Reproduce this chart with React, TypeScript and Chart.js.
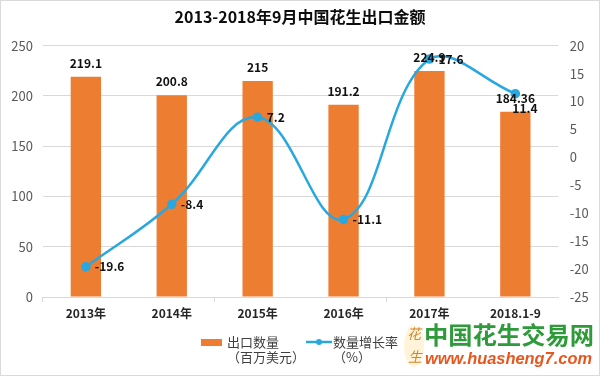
import React, { useEffect, useRef } from "react";
import { Chart, registerables } from "chart.js";

Chart.register(...registerables);

const categories = ["2013年", "2014年", "2015年", "2016年", "2017年", "2018.1-9"];
const exportValues = [219.1, 200.8, 215, 191.2, 224.9, 184.36];
const growthRates = [-19.6, -8.4, 7.2, -11.1, 17.6, 11.4];
const titleText = "2013-2018年9月中国花生出口金额";
const barLegend = ["出口数量", "（百万美元）"];
const lineLegend = ["数量增长率", "（%）"];

const FONT = '"Noto Sans CJK SC", "Noto Sans", sans-serif';
const BAR_COLOR = "#ED7D31";
const LINE_COLOR = "#29A8E0";

const decorPlugin = {
  id: "decor",
  afterDatasetsDraw(chart: any) {
    const ctx = chart.ctx;
    ctx.save();
    ctx.fillStyle = "#111";
    ctx.font = `bold 12px ${FONT}`;
    ctx.textBaseline = "middle";
    // bar labels
    const barMeta = chart.getDatasetMeta(1);
    ctx.textAlign = "center";
    barMeta.data.forEach((el: any, i: number) => {
      ctx.fillText(String(exportValues[i]), el.x, el.y - 13.5);
    });
    // line labels
    const lineMeta = chart.getDatasetMeta(0);
    ctx.textAlign = "left";
    lineMeta.data.forEach((el: any, i: number) => {
      const last = i === lineMeta.data.length - 1;
      const dx = last ? -3 : 9;
      const dy = last ? 15 : 0;
      ctx.fillText(String(growthRates[i]), el.x + dx, el.y + dy);
    });
    ctx.restore();
  },
  afterDraw(chart: any) {
    const ctx = chart.ctx;
    ctx.save();
    // border
    ctx.strokeStyle = "#d9d9d9";
    ctx.lineWidth = 1;
    ctx.strokeRect(0.5, 0.5, 599, 375);
    // title
    ctx.fillStyle = "#0d0d0d";
    ctx.font = `bold 16px ${FONT}`;
    ctx.textAlign = "center";
    ctx.textBaseline = "middle";
    ctx.fillText(titleText, 300, 17);

    // legend
    ctx.fillStyle = BAR_COLOR;
    ctx.fillRect(201, 339, 21, 7);
    ctx.fillStyle = "#404040";
    ctx.font = `13px ${FONT}`;
    ctx.textAlign = "left";
    ctx.fillText(barLegend[0], 227, 342);
    ctx.fillText(barLegend[1], 227, 357);

    ctx.strokeStyle = LINE_COLOR;
    ctx.lineWidth = 2.5;
    ctx.beginPath();
    ctx.moveTo(306, 342);
    ctx.lineTo(332, 342);
    ctx.stroke();
    ctx.fillStyle = LINE_COLOR;
    ctx.beginPath();
    ctx.arc(319, 342, 3, 0, Math.PI * 2);
    ctx.fill();
    ctx.fillStyle = "#404040";
    ctx.fillText(lineLegend[0], 333, 342);
    ctx.fillText(lineLegend[1], 333, 357);

    // watermark logo
    ctx.fillStyle = "#FFF4DA";
    ctx.beginPath();
    ctx.ellipse(414, 346, 10, 21, 0, 0, Math.PI * 2);
    ctx.fill();
    ctx.fillStyle = "#D0882C";
    ctx.font = `italic 14px ${FONT}`;
    ctx.textAlign = "center";
    ctx.fillText("花", 414, 334);
    ctx.fillText("生", 415, 357);

    ctx.fillStyle = "#2E9A3A";
    ctx.font = `bold 24px ${FONT}`;
    ctx.textAlign = "left";
    const t1 = "中国花生交易网";
    const w1 = ctx.measureText(t1).width;
    ctx.save();
    ctx.translate(424, 335);
    ctx.scale(170 / w1, 1);
    ctx.fillText(t1, 0, 0);
    ctx.restore();

    ctx.fillStyle = "#E8561E";
    ctx.font = `italic bold 17px "Liberation Sans", Arial, sans-serif`;
    const t2 = "www.huasheng7.com";
    const w2 = ctx.measureText(t2).width;
    ctx.save();
    ctx.translate(425, 359);
    ctx.scale(167 / w2, 1);
    ctx.fillText(t2, 0, 0);
    ctx.restore();

    ctx.restore();
  },
};

export default function App() {
  const ref = useRef<HTMLCanvasElement>(null);
  useEffect(() => {
    if (!ref.current) return;
    const chart = new Chart(ref.current, {
      type: "bar",
      data: {
        labels: categories,
        datasets: [
          {
            type: "line",
            label: "数量增长率（%）",
            data: growthRates,
            yAxisID: "y1",
            borderColor: LINE_COLOR,
            backgroundColor: LINE_COLOR,
            borderWidth: 2.5,
            pointRadius: 3.5,
            pointBackgroundColor: LINE_COLOR,
            pointBorderColor: LINE_COLOR,
            tension: 0.4,
            order: 0,
          } as any,
          {
            type: "bar",
            label: "出口数量（百万美元）",
            data: exportValues,
            yAxisID: "y",
            backgroundColor: BAR_COLOR,
            categoryPercentage: 1,
            barPercentage: 0.353,
            order: 1,
          },
        ],
      },
      options: {
        responsive: false,
        animation: false,
        layout: { padding: { top: 45.7, left: 0, right: 0, bottom: 0 } },
        plugins: {
          legend: { display: false },
          title: { display: false },
          tooltip: { enabled: false },
        },
        scales: {
          x: {
            offset: true,
            grid: {
              offset: true,
              drawOnChartArea: false,
              drawTicks: true,
              tickLength: 5,
              color: (c: any) => (c.index % 2 === 0 ? "#d9d9d9" : "rgba(0,0,0,0)"),
            },
            border: { display: true, color: "#d9d9d9" },
            ticks: {
              padding: 4,
              color: "#262626",
              font: { family: FONT, size: 12, weight: "bold" },
              maxRotation: 0,
              autoSkip: false,
            },
            afterFit: (s: any) => {
              s.height = 79;
            },
          },
          y: {
            position: "left",
            min: 0,
            max: 250,
            ticks: {
              stepSize: 50,
              padding: 10,
              color: "#595959",
              font: { family: FONT, size: 13 },
            },
            grid: { color: "#d9d9d9", drawTicks: false },
            border: { display: false },
            afterFit: (s: any) => {
              s.width = 42.9;
            },
          },
          y1: {
            position: "right",
            min: -25,
            max: 20,
            ticks: {
              stepSize: 5,
              padding: 11.5,
              color: "#595959",
              font: { family: FONT, size: 13 },
            },
            grid: { display: false, drawTicks: false },
            border: { display: false },
            afterFit: (s: any) => {
              s.width = 41.7;
            },
          },
        },
      },
      plugins: [decorPlugin],
    });
    return () => chart.destroy();
  }, []);
  return (
    <div style={{ position: "absolute", left: 0, top: 0, width: 600, height: 376, background: "#fff" }}>
      <canvas ref={ref} width={600} height={376} style={{ display: "block" }} />
    </div>
  );
}
